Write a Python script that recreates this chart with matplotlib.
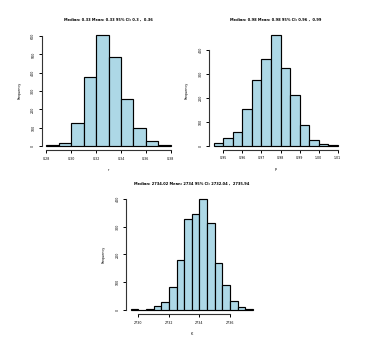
import numpy as np
import matplotlib.pyplot as plt

# bin edges and counts
r_edges = [0.28, 0.29, 0.30, 0.31, 0.32, 0.33, 0.34, 0.35, 0.36, 0.37, 0.38]
r_counts = [5, 18, 125, 378, 604, 488, 256, 98, 29, 7]
r_xticks = [0.28, 0.30, 0.32, 0.34, 0.36, 0.38]
r_yticks = [0, 100, 200, 300, 400, 500, 600]

p_edges = [0.945, 0.95, 0.955, 0.96, 0.965, 0.97, 0.975, 0.98, 0.985,
           0.99, 0.995, 1.00, 1.005, 1.01]
p_counts = [10, 33, 56, 151, 272, 362, 462, 325, 210, 85, 22, 6, 2]
p_xticks = [0.95, 0.96, 0.97, 0.98, 0.99, 1.00, 1.01]
p_yticks = [0, 100, 200, 300, 400]

k_edges = [2729.5, 2730, 2730.5, 2731, 2731.5, 2732, 2732.5, 2733, 2733.5,
           2734, 2734.5, 2735, 2735.5, 2736, 2736.5, 2737, 2737.5]
k_counts = [2, 1, 4, 13, 29, 81, 180, 326, 347, 398, 313, 168, 91, 31, 11, 5]
k_xticks = [2730, 2732, 2734, 2736]
k_yticks = [0, 100, 200, 300, 400]

titles = ['Median: 0.33 Mean: 0.33 95% CI: 0.3 ,  0.36',
          'Median: 0.98 Mean: 0.98 95% CI: 0.96 ,  0.99',
          'Median: 2734.02 Mean: 2734 95% CI: 2732.04 ,  2735.94']
xlabels = ['r', 'p', 'K']

W, H = 379, 338
fig = plt.figure(figsize=(W / 100, H / 100), dpi=100)


def make_ax(left, right, top, bottom):
    return fig.add_axes([left / W, 1 - bottom / H, (right - left) / W, (bottom - top) / H])


def rhist(ax, edges, counts, xticks, yticks, title, xlabel, fmt):
    edges = np.array(edges)
    ax.bar(edges[:-1], counts, width=np.diff(edges), align='edge',
           color='#add8e6', edgecolor='black', linewidth=0.85)
    span = edges[-1] - edges[0]
    ax.set_xlim(edges[0] - 0.04 * span, edges[-1] + 0.04 * span)
    top = max(counts)
    ax.set_ylim(-0.04 * top, 1.04 * top)
    for s in ['top', 'right']:
        ax.spines[s].set_visible(False)
    ax.spines['left'].set_bounds(yticks[0], yticks[-1])
    ax.spines['bottom'].set_bounds(xticks[0], xticks[-1])
    for s in ['left', 'bottom']:
        ax.spines[s].set_linewidth(0.8)
        ax.spines[s].set_color('#333333')
    ax.set_xticks(xticks)
    ax.set_xticklabels([fmt.format(v) for v in xticks])
    ax.set_yticks(yticks)
    ax.set_yticklabels([str(v) for v in yticks], rotation=90, va='center')
    ax.tick_params(length=2, width=0.7, labelsize=2.3, pad=2.5)
    ax.set_title(title, fontsize=2.6, fontweight='bold', pad=7)
    ax.set_xlabel(xlabel, fontsize=2.4, labelpad=5)
    ax.set_ylabel('Frequency', fontsize=2.4, labelpad=7)


ax1 = make_ax(41.5, 175.7, 31, 150.4)
rhist(ax1, r_edges, r_counts, r_xticks, r_yticks, titles[0], xlabels[0], '{:.2f}')

ax2 = make_ax(208.8, 342.7, 30.4, 150.1)
rhist(ax2, p_edges, p_counts, p_xticks, p_yticks, titles[1], xlabels[1], '{:.2f}')

ax3 = make_ax(125.8, 257.8, 195, 314.4)
rhist(ax3, k_edges, k_counts, k_xticks, k_yticks, titles[2], xlabels[2], '{:d}')

fig.savefig('out.png', dpi=100)
